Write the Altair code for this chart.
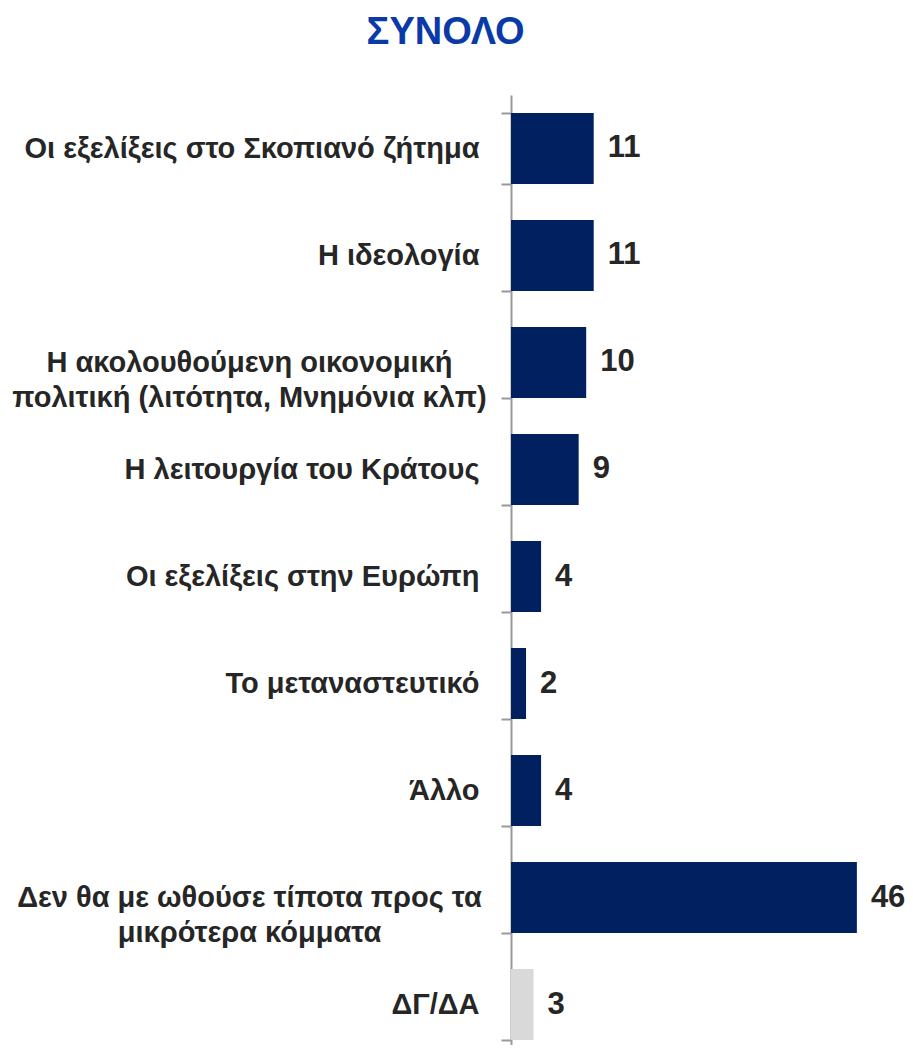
import altair as alt
import pandas as pd

categories = [
    "Οι εξελίξεις στο Σκοπιανό ζήτημα",
    "Η ιδεολογία",
    "Η ακολουθούμενη οικονομική|πολιτική (λιτότητα, Μνημόνια κλπ)",
    "Η λειτουργία του Κράτους",
    "Οι εξελίξεις στην Ευρώπη",
    "Το μεταναστευτικό",
    "Άλλο",
    "Δεν θα με ωθούσε τίποτα προς τα|μικρότερα κόμματα",
    "ΔΓ/ΔΑ",
]
values = [11, 11, 10, 9, 4, 2, 4, 46, 3]
groups = ["main"] * 8 + ["dk"]

df = pd.DataFrame({"cat": categories, "val": values, "grp": groups})

FONT = "Liberation Sans, Arial, sans-serif"
MULTI = "indexof(datum.label, '|') >= 0"

y_enc = alt.Y(
    "cat:N",
    sort=categories,
    scale=alt.Scale(paddingInner=0.336, paddingOuter=0.107, align=0.784),
    axis=alt.Axis(
        title=None,
        labelExpr="split(datum.label, '|')",
        labelFont=FONT,
        labelFontSize=29,
        labelFontWeight="bold",
        labelColor="#262626",
        labelLineHeight=35,
        labelAlign={"condition": {"test": MULTI, "value": "center"}, "value": "right"},
        labelPadding={"condition": {"test": MULTI, "value": 252}, "value": 22},
        labelLimit=600,
        tickBand="extent",
        tickSize=10,
        tickColor="#999999",
        tickWidth=2,
        domainColor="#999999",
        domainWidth=2,
        grid=False,
    ),
)
x_enc = alt.X("val:Q", scale=alt.Scale(domain=[0, 52.4], nice=False), axis=None)

bars = alt.Chart(df).mark_bar().encode(
    y=y_enc,
    x=x_enc,
    color=alt.Color(
        "grp:N",
        scale=alt.Scale(domain=["main", "dk"], range=["#002060", "#D9D9D9"]),
        legend=None,
    ),
)

labels = alt.Chart(df).mark_text(
    align="left", baseline="middle", dx=14,
    font=FONT, fontSize=31, fontWeight="bold", color="#262626",
).encode(y=alt.Y("cat:N", sort=categories), x="val:Q", text="val:Q")

chart = (
    alt.layer(bars, labels)
    .properties(
        width=394,
        height=950,
        autosize=alt.AutoSizeParams(type="none"),
        padding={"left": 503, "top": 87, "right": 0, "bottom": 0},
        title=alt.TitleParams(
            "ΣΥΝΟΛΟ", font=FONT, fontSize=38, fontWeight="bold",
            color="#0A3AA8", anchor="middle", frame="bounds", offset=29, dx=-13,
        ),
    )
    .configure_view(stroke=None)
)

chart.save("out.html", embed_options={"renderer": "svg", "actions": False})
